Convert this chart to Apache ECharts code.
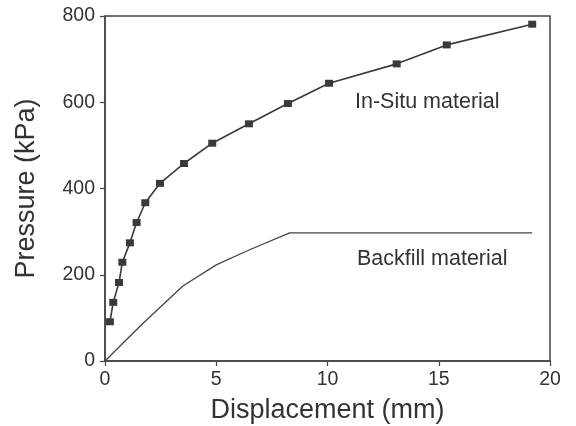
<!DOCTYPE html>
<html>
<head>
<meta charset="utf-8">
<script src="https://cdn.jsdelivr.net/npm/echarts@6/dist/echarts.min.js"></script>
<style>
  html, body { margin: 0; padding: 0; background: #fff; }
  #chart { width: 576px; height: 426px; }
</style>
</head>
<body>
<div id="chart"></div>
<script>
// In-Situ material (square markers)
const insituX = [0.22, 0.37, 0.63, 0.78, 1.12, 1.42, 1.81, 2.47, 3.55, 4.82, 6.47, 8.22, 10.07, 13.11, 15.36, 19.2];
const insituY = [91, 136, 182, 229, 274, 321, 367, 412, 458, 505, 550, 597, 644, 689, 733, 781];
// Backfill material (plain line)
const backfillX = [0, 0.8, 1.7, 3.5, 5.0, 6.5, 8.3, 19.2];
const backfillY = [0, 41, 87, 174, 223, 258, 297, 297];

const font = "'Liberation Sans', Arial, sans-serif";
const ink = "#333";
const lineCol = "#444";

const chart = echarts.init(document.getElementById("chart"));

const axisCommon = {
  axisLine: { show: true, lineStyle: { color: lineCol, width: 1.5 } },
  axisTick: { show: true, inside: false, length: 5, lineStyle: { color: lineCol, width: 1.2 } },
  splitLine: { show: false },
  nameLocation: "middle",
  nameTextStyle: { color: ink, fontSize: 27, fontFamily: font }
};

chart.setOption({
  animation: false,
  grid: {
    left: 105, right: 26, top: 16, bottom: 65,
    outerBoundsMode: "none", containLabel: false,
    show: true, borderColor: lineCol, borderWidth: 1.5, backgroundColor: "transparent"
  },
  xAxis: Object.assign({}, axisCommon, {
    type: "value", min: 0, max: 20, interval: 5,
    name: "Displacement (mm)", nameGap: 36,
    axisLabel: { color: ink, fontSize: 19.5, fontFamily: font, margin: 9 }
  }),
  yAxis: Object.assign({}, axisCommon, {
    type: "value", min: 0, max: 800, interval: 200,
    name: "Pressure (kPa)", nameGap: 65,
    axisLabel: { color: ink, fontSize: 19.5, fontFamily: font, margin: 10 }
  }),
  series: [
    {
      name: "In-Situ material",
      type: "line",
      data: insituX.map((x, i) => [x, insituY[i]]),
      symbol: "rect",
      symbolSize: [8, 7],
      showAllSymbol: true,
      itemStyle: { color: "#3a3a3a" },
      lineStyle: { color: "#3a3a3a", width: 1.6 }
    },
    {
      name: "Backfill material",
      type: "line",
      data: backfillX.map((x, i) => [x, backfillY[i]]),
      symbol: "none",
      lineStyle: { color: "#444", width: 1.3 }
    }
  ],
  graphic: [
    { type: "text", left: 355, top: 91,
      style: { text: "In-Situ material", fill: ink, fontSize: 21.5, fontFamily: font } },
    { type: "text", left: 357, top: 248,
      style: { text: "Backfill material", fill: ink, fontSize: 21.5, fontFamily: font } }
  ]
});
</script>
</body>
</html>
